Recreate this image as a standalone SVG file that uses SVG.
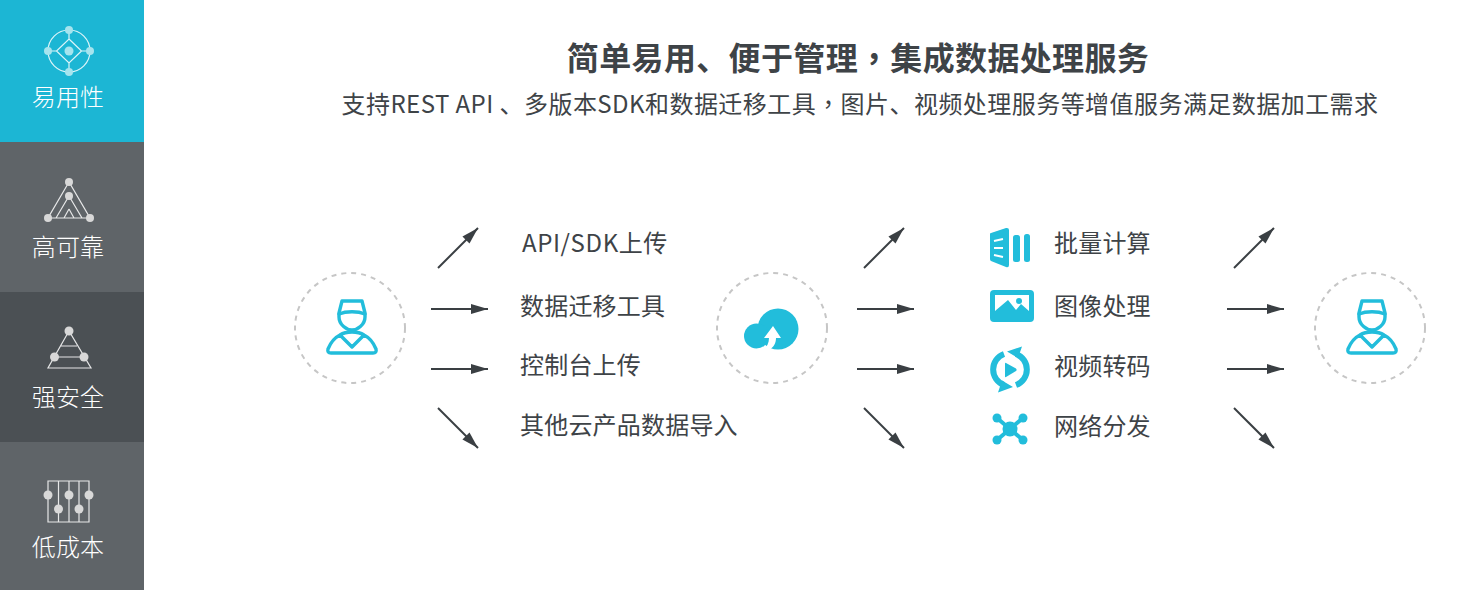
<svg xmlns="http://www.w3.org/2000/svg" width="1472" height="590" viewBox="0 0 1472 590">
<defs>
<style>
text{font-family:"Noto Sans CJK SC","Noto Sans",sans-serif;fill:#3e4347}
.side{fill:#fff;font-size:24px;text-anchor:middle;font-weight:300;letter-spacing:.2px}
.lbl{font-size:24px;letter-spacing:.2px}
.wide{letter-spacing:.6px}
.ln{stroke:#fff;stroke-width:1.2;fill:none;opacity:.85}
.dot{fill:#d8d8d8}
.dotb{fill:#a6e4ee}
.ic{fill:none;stroke:#22bddb;stroke-width:3.4;stroke-linejoin:round;stroke-linecap:round}
.f{fill:#22bddb}
.ring{fill:none;stroke:#c6c6c6;stroke-width:2;stroke-dasharray:5 5}
.c{stroke:#3a3f43;stroke-width:2;fill:none;marker-end:url(#a)}
.tc{font-family:"Noto Sans CJK TC",sans-serif}
</style>
<marker id="a" markerUnits="userSpaceOnUse" markerWidth="18" markerHeight="12" refX="17" refY="5" orient="auto"><path d="M0 0L17 5L0 10Z" fill="#3a3f43"/></marker>
<g id="person"><path class="ic" d="M-10 -26H10L13 -14V-10C13 -2 5 3 0 3C-5 3 -13 -2 -13 -10V-14Z"/><path class="ic" d="M-13 -13C-6 -16 6 -16 13 -13"/><path class="ic" d="M-12 8C-18 11 -22 17 -24 22Q-25 26 -21 26H21Q25 26 24 22C22 17 18 11 12 8C6 4 -6 4 -12 8L0 20L12 8"/></g>
</defs>
<rect width="1472" height="590" fill="#fff"/>
<g id="tab-1"><rect width="144" height="142" fill="#1cb6d4"/>
<circle class="ln" cx="69" cy="51" r="21"/><path class="ln" d="M69 39L81.500 51L69 63L56.500 51Z M69 30V39M69 63V72M48 51H56.500M81.500 51H90"/>
<g class="dotb"><circle cx="69" cy="30" r="4"/><circle cx="48" cy="51" r="4"/><circle cx="90" cy="51" r="4"/><circle cx="69" cy="72" r="4"/><circle cx="69" cy="51" r="4.500"/></g>
<text class="side" x="68" y="106">易用性</text></g>
<g id="tab-2"><rect y="142" width="144" height="150" fill="#5f6468"/>
<path class="ln" d="M69 182L48 218H90Z M69 196L56 218M69 196L82 218M69 209L64 218M69 209L74 218"/>
<g class="dot"><circle cx="69" cy="182" r="4"/><circle cx="69" cy="196" r="4"/><circle cx="48" cy="218" r="4"/><circle cx="90" cy="218" r="4"/></g>
<text class="side" x="68" y="256">高可靠</text></g>
<g id="tab-3"><rect y="292" width="144" height="150" fill="#4b5054"/>
<path class="ln" d="M69 331L48 368H91Z M61 346H77 M54 357H84"/>
<g class="dot"><circle cx="69" cy="331" r="4.500"/><circle cx="54.500" cy="357" r="4.500"/><circle cx="84" cy="357" r="4.500"/></g>
<text class="side" x="68" y="406">强安全</text></g>
<g id="tab-4"><rect y="442" width="144" height="148" fill="#5f6468"/>
<path class="ln" d="M48 481H89V522H48Z M58.500 481V522M69 481V522M79 481V522"/>
<g class="dot"><circle cx="48" cy="495" r="4.500"/><circle cx="58.500" cy="509" r="4.500"/><circle cx="69" cy="495" r="4.500"/><circle cx="79" cy="509" r="4.500"/><circle cx="89" cy="495" r="4.500"/></g>
<text class="side" x="68" y="556">低成本</text></g>
<g id="heading"><text x="858" y="70" text-anchor="middle" font-size="32" font-weight="700" letter-spacing=".35">简单易用、便于管理<tspan class="tc">，</tspan>集成数据处理服务</text>
<text x="860" y="113" text-anchor="middle" font-size="24" letter-spacing=".45">支持REST API 、多版本SDK和数据迁移工具<tspan class="tc">，</tspan>图片、视频处理服务等增值服务满足数据加工需求</text></g>
<g id="source"><circle class="ring" cx="350" cy="328" r="55"/><use href="#person" x="352" y="327"/></g>
<g id="cloud"><circle class="ring" cx="772" cy="328" r="55"/>
<circle class="f" cx="778" cy="329" r="20.500"/><circle class="f" cx="756.500" cy="336" r="12.500"/>
<path d="M773 326L781 338H776C776 343 774 347 769 350H763C767 347 769 343 769 338H764Z" fill="#fff"/></g>
<g id="target"><circle class="ring" cx="1370" cy="328" r="55"/><use href="#person" x="1372" y="327"/></g>
<g id="in-1"><text class="lbl wide" x="522" y="252">API/SDK上传</text></g>
<g id="in-2"><text class="lbl" x="520" y="314.500">数据迁移工具</text></g>
<g id="in-3"><text class="lbl" x="520" y="374">控制台上传</text></g>
<g id="in-4"><text class="lbl" x="520" y="434">其他云产品数据导入</text></g>
<g id="svc-1"><path class="f" d="M990 234Q990 233 991 233L1006 228Q1009 227.500 1009 230V265Q1009 268 1006 267L991 261Q990 260.500 990 259Z"/><path d="M994 241L1003 239M994 248L1003 248M994 255L1003 257" stroke="#fff" stroke-width="2" fill="none"/><rect x="1013" y="235" width="7" height="27" rx="2.500" class="f"/><rect x="1024" y="234" width="6" height="28" rx="2.500" class="f"/><text class="lbl" x="1054" y="252">批量计算</text></g>
<g id="svc-2"><rect x="990" y="290" width="44" height="32" rx="4" class="f"/><path d="M995 295H1029V311L1021 304L1016 310L1008 300L995 311Z" fill="#fff"/><circle cx="1019" cy="301" r="3" class="f"/><text class="lbl" x="1054" y="314.500">图像处理</text></g>
<g id="svc-3"><path d="M1004 354A16.500 16.500 0 0 0 1004 385M1016 385A16.500 16.500 0 0 0 1016 354" fill="none" stroke="#22bddb" stroke-width="6"/><path class="f" d="M1022 346.500L1007 351.500L1018 358Z M998 392.500L1013 387L1002 380.500Z"/><path d="M1005 363.500Q1005 362.500 1006 363L1016 368.500Q1017.500 370 1016 371L1006 377Q1005 377.500 1005 376.500Z" class="f"/><text class="lbl" x="1054" y="375">视频转码</text></g>
<g id="svc-4"><path d="M997 418L1023 440M1023 418L997 440" stroke="#22bddb" stroke-width="4"/><circle cx="1010" cy="429" r="7.500" class="f"/><circle cx="997" cy="418" r="4.500" class="f"/><circle cx="1023" cy="418" r="4.500" class="f"/><circle cx="997" cy="440" r="4.500" class="f"/><circle cx="1023" cy="440" r="4.500" class="f"/><text class="lbl" x="1054" y="435">网络分发</text></g>
<g id="connectors">
<path class="c" d="M438 268L478 228"/><path class="c" d="M431 309H488"/><path class="c" d="M431 369H488"/><path class="c" d="M438 408L478 448"/>
<path class="c" d="M864 268L904 228"/><path class="c" d="M857 309H914"/><path class="c" d="M857 369H914"/><path class="c" d="M864 408L904 448"/>
<path class="c" d="M1234 268L1274 228"/><path class="c" d="M1227 309H1284"/><path class="c" d="M1227 369H1284"/><path class="c" d="M1234 408L1274 448"/>
</g>
</svg>
